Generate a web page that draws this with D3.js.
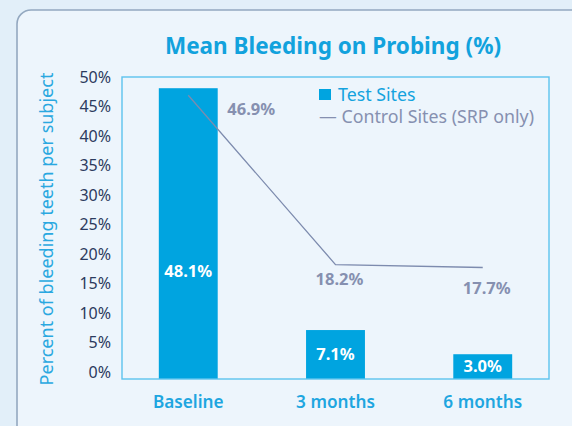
<!DOCTYPE html>
<html>
<head>
<meta charset="utf-8">
<script src="https://cdn.jsdelivr.net/npm/d3@7"></script>
<style>
  html, body { margin: 0; padding: 0; background: #e2eff9; }
  svg { display: block; font-family: "Noto Sans", sans-serif; }
</style>
</head>
<body>
<svg id="chart" width="572" height="426"></svg>
<script>
// data
const categories = ['Baseline', '3 months', '6 months'];
const test_sites = [48.1, 7.1, 3.0];
const control_sites = [46.9, 18.2, 17.7];
const y_ticks = [0, 5, 10, 15, 20, 25, 30, 35, 40, 45, 50];

const width = 572, height = 426;
const margin = {top: 77, right: 23, bottom: 47, left: 122};

const svg = d3.select('#chart');

// card behind the chart
svg.append('rect')
    .attr('x', 17).attr('y', 10)
    .attr('width', 600).attr('height', 460)
    .attr('rx', 14).attr('ry', 14)
    .attr('fill', '#edf5fc')
    .attr('stroke', '#93a8c0')
    .attr('stroke-width', 1.6);

let x = d3.scaleBand()
    .domain(categories)
    .range([margin.left, width - margin.right])
    .paddingInner(0.6)
    .paddingOuter(0.25);

// bars sit a little below the 0% tick, down to the frame
let y = d3.scaleLinear()
    .domain([-1.2, 50])
    .range([height - margin.bottom, margin.top]);

// title
svg.append('text')
    .attr('x', 333).attr('y', 54)
    .attr('text-anchor', 'middle')
    .attr('font-size', 22.5)
    .attr('font-weight', 'bold')
    .attr('fill', '#12a2dd')
    .text('Mean Bleeding on Probing (%)');

// y axis title
svg.append('text')
    .attr('transform', 'translate(53,229) rotate(-90)')
    .attr('text-anchor', 'middle')
    .attr('font-size', 18)
    .attr('fill', '#2aa8e0')
    .text('Percent of bleeding teeth per subject');

// y axis
let y_axis = svg.append('g')
    .attr('transform', 'translate(' + (margin.left - 8) + ',0)')
    .call(d3.axisLeft(y).tickValues(y_ticks).tickSize(0).tickFormat(d => d + '%'));
y_axis.select('.domain').remove();
y_axis.selectAll('text')
    .attr('font-family', '"Noto Sans", sans-serif')
    .attr('font-size', 16)
    .attr('fill', '#2c3b5e');

// bars
svg.append('g').selectAll('rect')
    .data(test_sites)
    .join('rect')
    .attr('x', (d, i) => x(categories[i]))
    .attr('y', d => y(d))
    .attr('width', x.bandwidth())
    .attr('height', d => y(-1.2) - y(d))
    .attr('fill', '#00a4e0');

// bar labels
svg.append('g').selectAll('text')
    .data(test_sites)
    .join('text')
    .attr('x', (d, i) => x(categories[i]) + x.bandwidth() / 2)
    .attr('y', d => Math.max((y(d) + y(-1.2)) / 2, y(17)))
    .attr('dy', '0.35em')
    .attr('text-anchor', 'middle')
    .attr('font-size', 16.5)
    .attr('font-weight', 'bold')
    .attr('fill', '#ffffff')
    .text(d => d.toFixed(1) + '%');

// frame
svg.append('rect')
    .attr('x', margin.left).attr('y', margin.top)
    .attr('width', width - margin.left - margin.right)
    .attr('height', height - margin.top - margin.bottom)
    .attr('fill', 'none')
    .attr('stroke', '#5cc3ee')
    .attr('stroke-width', 1.4);

// control line
let line = d3.line()
    .x((d, i) => x(categories[i]) + x.bandwidth() / 2)
    .y(d => y(d));
svg.append('path')
    .datum(control_sites)
    .attr('d', line)
    .attr('fill', 'none')
    .attr('stroke', '#7d8bae')
    .attr('stroke-width', 1.3);

// control labels
let control_label_dx = [63, 4, 4];
let control_label_dy = [14, 15, 21];
svg.append('g').selectAll('text')
    .data(control_sites)
    .join('text')
    .attr('x', (d, i) => x(categories[i]) + x.bandwidth() / 2 + control_label_dx[i])
    .attr('y', (d, i) => y(d) + control_label_dy[i])
    .attr('dy', '0.35em')
    .attr('text-anchor', 'middle')
    .attr('font-size', 16.5)
    .attr('font-weight', 'bold')
    .attr('fill', '#8690b0')
    .text(d => d.toFixed(1) + '%');

// x labels
svg.append('g').selectAll('text')
    .data(categories)
    .join('text')
    .attr('x', d => x(d) + x.bandwidth() / 2)
    .attr('y', 402)
    .attr('dy', '0.35em')
    .attr('text-anchor', 'middle')
    .attr('font-size', 17.2)
    .attr('font-weight', 600)
    .attr('fill', '#1ea6e0')
    .text(d => d);

// legend
let legend = svg.append('g').attr('transform', 'translate(319,89)');
legend.append('rect')
    .attr('width', 12).attr('height', 11)
    .attr('fill', '#00a4e0');
legend.append('text')
    .attr('x', 19).attr('y', 6)
    .attr('dy', '0.35em')
    .attr('font-size', 17.8)
    .attr('fill', '#14a3de')
    .text('Test Sites');
legend.append('text')
    .attr('x', 0).attr('y', 28)
    .attr('dy', '0.35em')
    .attr('font-size', 17.8)
    .attr('fill', '#8690b0')
    .text('— Control Sites (SRP only)');
</script>
</body>
</html>
